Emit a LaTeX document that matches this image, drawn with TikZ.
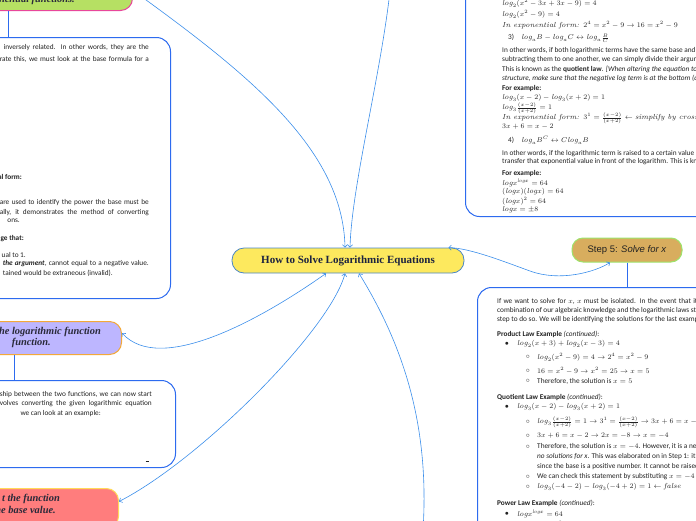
\documentclass[tikz,border=0pt]{standalone}
\usepackage{fontspec}
\usetikzlibrary{arrows.meta,positioning}
\newfontfamily\bodyfont{Carlito}
\newfontfamily\slabfont{Liberation Serif}
\newfontfamily\stepfont{Liberation Sans}
\newcommand{\lgm}{\mathit{log}}
\newcommand{\rmit}{\rmfamily\itshape}
\newcommand{\jline}[2]{\makebox[#1pt][s]{#2}}
\newcommand{\sfr}[2]{{\scriptstyle\frac{#1}{#2}}}
\definecolor{linkblue}{HTML}{3B8EEA}
\definecolor{boxblue}{HTML}{2D6BEF}
\definecolor{rootfill}{HTML}{FDE95E}
\definecolor{rootline}{HTML}{4A86C5}
\definecolor{greenfill}{HTML}{B6E063}
\definecolor{greenline}{HTML}{E8479B}
\definecolor{purplefill}{HTML}{BDB6FF}
\definecolor{purpleline}{HTML}{F3A93A}
\definecolor{redfill}{HTML}{FF7D7D}
\definecolor{redline}{HTML}{FFD95A}
\definecolor{stepfill}{HTML}{D8AD5E}
\definecolor{stepline}{HTML}{9DE36B}
\definecolor{bodyink}{HTML}{222222}
\definecolor{topicink}{HTML}{2A2A3A}
\definecolor{rootink}{HTML}{1C2340}

\begin{document}
\begin{tikzpicture}[x=1pt,y=-1pt,
  link/.style={draw=linkblue,line width=0.6pt,{Straight Barb[length=2.5pt,width=5pt]}-{Straight Barb[length=2.5pt,width=5pt]}},
  stem/.style={draw=boxblue,line width=0.8pt},
  notebox/.style={draw=boxblue,line width=1pt,rounded corners=14pt,fill=white,minimum width=320pt},
  topic/.style={line width=1pt,rounded corners=12pt,minimum width=300pt},
  topictext/.style={inner sep=0pt,text=topicink,font=\slabfont\bfseries\itshape\fontsize{10.4}{12}\selectfont},
  txtline/.style={inner sep=0pt,text=bodyink,font=\bodyfont\fontsize{7.3}{8}\selectfont}]
\useasboundingbox (0,0) rectangle (696,520);
\clip (0,0) rectangle (696,520);

% main topic and the step nodes
\node[draw=rootline,fill=rootfill,line width=0.8pt,rounded corners=12pt,minimum width=232pt,minimum height=25pt,
  text=rootink,font=\slabfont\bfseries\fontsize{11}{13}\selectfont] (root) at (348,260.5) {How to Solve Logarithmic Equations};
\node[topic,draw=greenline,fill=greenfill,anchor=south east,minimum height=40pt] (green) at (133,11) {};
\node[topic,draw=purpleline,fill=purplefill,anchor=north east,minimum height=33pt] (purple) at (122,321) {};
\node[topic,draw=redline,fill=redfill,anchor=north east,minimum height=40pt] (red) at (119,488) {};
\node[draw=stepline,fill=stepfill,line width=1pt,rounded corners=11pt,minimum width=110pt,minimum height=24pt,
  text=bodyink,font=\stepfont\fontsize{9.5}{11}\selectfont] (step) at (627,250) {Step 5: \textit{Solve for x}};
\coordinate (upper) at (392,-30);
\coordinate (lower) at (423,530);

% connectors
\draw[link] (green.east) .. controls (250,75) and (343,150) .. ([xshift=-3pt]root.north);
\draw[link] (upper) .. controls (385,60) and (352,180) .. ([xshift=2pt]root.north);
\draw[link] ([xshift=-16pt]root.north east) .. controls (470,248) and (505,262) .. (530,271)
  .. controls (560,282) and (595,272) .. ([xshift=-17pt]step.south);
\draw[link] ([yshift=5pt]purple.east) .. controls (160,375) and (260,320) .. ([xshift=-22pt]root.south);
\draw[link] ([yshift=7pt]red.east) .. controls (200,460) and (330,330) .. ([xshift=-3pt]root.south);
\draw[link] ([xshift=11pt]root.south) .. controls (400,340) and (430,420) .. (lower);

% note boxes
\node[notebox,anchor=north east,minimum height=261pt] (box1) at (171,37) {};
\node[notebox,anchor=north east,minimum height=87pt] (box2) at (176,380) {};
\node[notebox,anchor=south west,minimum height=300pt] (box3) at (465,217) {};
\node[notebox,anchor=north west,minimum height=300pt] (box4) at (477,287) {};
\draw[stem] (green.south -| 8,0) -- (box1.north -| 8,0);
\draw[stem] (purple.south -| 14,0) -- (box2.north -| 14,0);
\draw[stem] (step.south) -- (box4.north -| step.south);

% topic texts
\node[topictext,anchor=east] (g1) at (75,0) {exponential functions.};
\node[topictext,anchor=east] (p1) at (101,332) {he logarithmic function};
\node[topictext,anchor=east] (p2) at (51,343) {function.};
\node[topictext,anchor=east] (r1) at (60,499) {t the function};
\node[topictext,anchor=east] (r2) at (56,510) {he base value.};

% box texts
\foreach \lx/\ly/\lt [count=\i] in {
  149/48/{\jline{145}{inversely related. In other words, they are the}},
  149/59/{\jline{149}{rate this, we must look at the base formula for a}},
  22/177/{\textbf{al form:}},
  149/203/{\jline{149}{are used to identify the power the base must be}},
  149/213/{\jline{149}{ally, it demonstrates the method of converting}},
  20/221/{ons.},
  24/239/{\textbf{ge that:}},
  26/255/{ual to 1.},
  149/264/{\jline{146}{\textbf{\textit{the argument}}, cannot equal to a negative value.}},
  113/273/{tained would be extraneous (invalid).},
  152/395/{\jline{152}{ship between the two functions, we can now start}},
  152/404/{\jline{152}{volves converting the given logarithmic equation}},
  101/414/{we can look at an example:}}
  \node[txtline,anchor=east] (tl\i) at (\lx,\ly) {\lt};
\node[txtline] (dash) at (147,461) {\rule{3pt}{0.6pt}};

\foreach \lx/\ly/\lt [count=\i] in {
  502/3/{$\lgm_2(x^2-3x+3x-9)=4$},
  502/14/{$\lgm_2(x^2-9)=4$},
  502/25/{\rmit In exponential form: $2^4=x^2-9\rightarrow16=x^2-9$},
  508/38/{3)\quad$\lgm_aB-\lgm_aC\leftrightarrow\lgm_a\sfr{B}{C}$},
  502/51/{In other words, if both logarithmic terms have the same base and we happen},
  502/60/{subtracting them to one another, we can simply divide their arguments to obtain},
  502/69/{This is known as the \textbf{quotient law}. \textit{[When altering the equation to fit into the quotient}},
  502/78/{\textit{structure, make sure that the negative log term is at the bottom (denominator).]}},
  502/89/{\textbf{For example:}},
  502/98/{$\lgm_3(x-2)-\lgm_3(x+2)=1$},
  502/108/{$\lgm_3\sfr{(x-2)}{(x+2)}=1$},
  502/118/{\rmit In exponential form: $3^1=\sfr{(x-2)}{(x+2)}\leftarrow\mathit{simplify\ by\ cross-multiplying}$},
  502/127/{$3x+6=x-2$},
  508/140/{4)\quad$\lgm_aB^C\leftrightarrow C\lgm_aB$},
  502/153/{In other words, if the logarithmic term is raised to a certain value (exponent), we},
  502/162/{transfer that exponential value in front of the logarithm. This is known as the \textbf{power}},
  502/174/{\textbf{For example:}},
  502/183/{$\lgm x^{\lgm x}=64$},
  502/192/{$(\lgm x)(\lgm x)=64$},
  502/201/{$(\lgm x)^2=64$},
  502/210/{$\lgm x=\pm8$}}
  \node[txtline,anchor=west] (tr\i) at (\lx,\ly) {\lt};

\foreach \lx/\ly/\lt [count=\i] in {
  497/301/{\jline{207}{If we want to solve for $x$, $x$ must be isolated. In the event that it is}},
  497/311/{\jline{212}{combination of our algebraic knowledge and the logarithmic laws stated}},
  497/320/{step to do so. We will be identifying the solutions for the last examples:},
  497/334/{\textbf{Product Law Example} \textit{(continued)}:},
  517/344/{$\lgm_2(x+3)+\lgm_2(x-3)=4$},
  537/357/{$\lgm_2(x^2-9)=4\rightarrow2^4=x^2-9$},
  537/371/{$16=x^2-9\rightarrow x^2=25\rightarrow x=5$},
  537/381/{Therefore, the solution is $x=5$},
  497/397/{\textbf{Quotient Law Example} \textit{(continued)}:},
  517/407/{$\lgm_3(x-2)-\lgm_3(x+2)=1$},
  537/422/{$\lgm_3\sfr{(x-2)}{(x+2)}=1\rightarrow3^1=\sfr{(x-2)}{(x+2)}\rightarrow3x+6=x-2$},
  537/436/{$3x+6=x-2\rightarrow2x=-8\rightarrow x=-4$},
  537/447/{Therefore, the solution is $x=-4$. However, it is a negative},
  537/457/{\textit{no solutions for x}. This was elaborated on in Step 1: it was},
  537/467/{since the base is a positive number. It cannot be raised to be},
  537/477/{We can check this statement by substituting $x=-4$ into the},
  537/487/{$\lgm_3(-4-2)-\lgm_3(-4+2)=1\leftarrow\mathit{false}$},
  497/503/{\textbf{Power Law Example} \textit{(continued)}:},
  517/514/{$\lgm x^{\lgm x}=64$},
  537/525/{$(\lgm x)^2=64\rightarrow\lgm x=\pm8$}}
  \node[txtline,anchor=west] (br\i) at (\lx,\ly) {\lt};

% bullets
\foreach \ly [count=\i] in {344,407,514}
  \node[txtline] (dot\i) at (507,\ly) {$\bullet$};
\foreach \ly [count=\i] in {357,371,381,422,436,447,477,487,525}
  \node[txtline] (ring\i) at (528,\ly) {$\circ$};
\end{tikzpicture}
\end{document}
